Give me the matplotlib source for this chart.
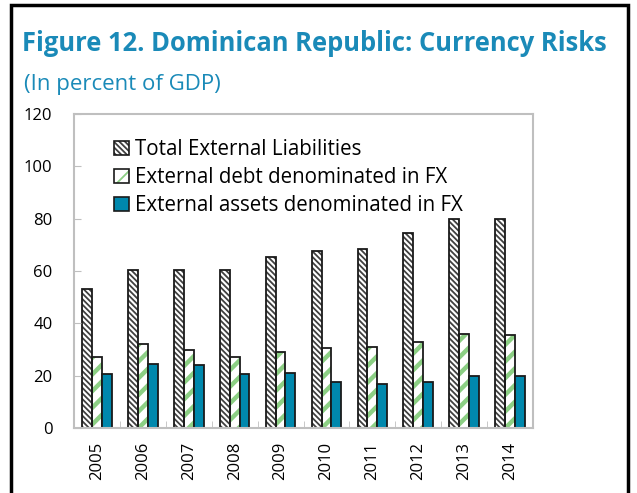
import matplotlib
matplotlib.use("Agg")
import matplotlib.pyplot as plt
import numpy as np
from matplotlib.patches import Rectangle, Patch
from matplotlib.legend_handler import HandlerTuple

years = ["2005", "2006", "2007", "2008", "2009", "2010", "2011", "2012", "2013", "2014"]
total_liab = [53, 60.5, 60.5, 60.5, 65.5, 67.5, 68.5, 74.5, 80, 80]
debt_fx = [27, 32, 30, 27, 29, 30.5, 31, 33, 36, 35.5]
assets_fx = [20.5, 24.5, 24, 20.5, 21, 17.5, 17, 17.5, 20, 20]
series_names = ["Total External Liabilities", "External debt denominated in FX",
                "External assets denominated in FX"]

plt.rcParams['font.family'] = ['Open Sans', 'DejaVu Sans']
plt.rcParams['hatch.linewidth'] = 1.3

fig = plt.figure(figsize=(6.37, 4.93), dpi=100)
ax = fig.add_axes([74/637, 1-428/493, (533-74)/637, (428-114)/493])

x = np.arange(len(years))
w = 0.215
blue = '#0088ad'
green = '#8ccf84'
dark = '#404040'
hatch_dark = '\\' * 6
hatch_green = '//'


def set_hlw(patches, lw):
    for p in patches:
        if hasattr(p, 'set_hatch_linewidth'):
            p.set_hatch_linewidth(lw)


b1h = ax.bar(x - w, total_liab, w, color='white', edgecolor=dark, hatch=hatch_dark, lw=0)
b2h = ax.bar(x, debt_fx, w, color='white', edgecolor=green, hatch=hatch_green, lw=0)
set_hlw(b1h, 1.3)
set_hlw(b2h, 3.2)
b1 = ax.bar(x - w, total_liab, w, facecolor='none', edgecolor='#1a1a1a', lw=1.3)
b2 = ax.bar(x, debt_fx, w, facecolor='none', edgecolor='#1a1a1a', lw=1.3)
b3 = ax.bar(x + w, assets_fx, w, color=blue, edgecolor='#1a1a1a', lw=1.3)

ax.set_ylim(0, 120)
ax.set_xlim(-0.5, len(years) - 0.5)
ax.set_yticks(range(0, 121, 20))
ax.set_xticks(x)
ax.set_xticklabels(years, rotation=90, fontsize=12)
ax.tick_params(axis='y', direction='in', length=5, color='#bfbfbf', labelsize=12, pad=15.5)
ax.tick_params(axis='x', length=0, pad=10)
ax.set_xticks(np.arange(0.5, len(years) - 0.5, 1), minor=True)
ax.tick_params(axis='x', which='minor', direction='in', length=5, color='#bfbfbf')
for s in ax.spines.values():
    s.set_color('#bfbfbf')
    s.set_linewidth(1.5)

lp1 = Patch(facecolor='white', edgecolor=dark, hatch=hatch_dark, lw=0)
lp2 = Patch(facecolor='white', edgecolor=green, hatch=hatch_green, lw=0)
set_hlw([lp1], 1.3)
set_hlw([lp2], 3.2)
h1 = (lp1, Patch(facecolor='none', edgecolor='#1a1a1a', lw=1.2))
h2 = (lp2, Patch(facecolor='none', edgecolor='#1a1a1a', lw=1.2))
h3 = Patch(facecolor=blue, edgecolor='#1a1a1a', lw=1.2)
ax.legend([h1, h2, h3], series_names, handler_map={tuple: HandlerTuple(ndivide=1)},
          loc='upper left', bbox_to_anchor=(0.07, 0.946), frameon=False, fontsize=14.8,
          handlelength=0.7, handleheight=0.7, handletextpad=0.3, labelspacing=0.34,
          borderaxespad=0)

fig.text(22/637, 1-51/493, "Figure 12. Dominican Republic: Currency Risks", fontsize=18.4,
         fontweight='bold', color='#1a8ab8', va='baseline')
fig.text(24/637, 1-90/493, "(In percent of GDP)", fontsize=16, color='#1a8ab8', va='baseline')

fig.patches.append(Rectangle((11/637, -0.1), (628-11)/637, 1.1 - 5/493, transform=fig.transFigure,
                             fill=False, edgecolor='black', lw=2.5, figure=fig))

fig.savefig("out.png", dpi=100)
